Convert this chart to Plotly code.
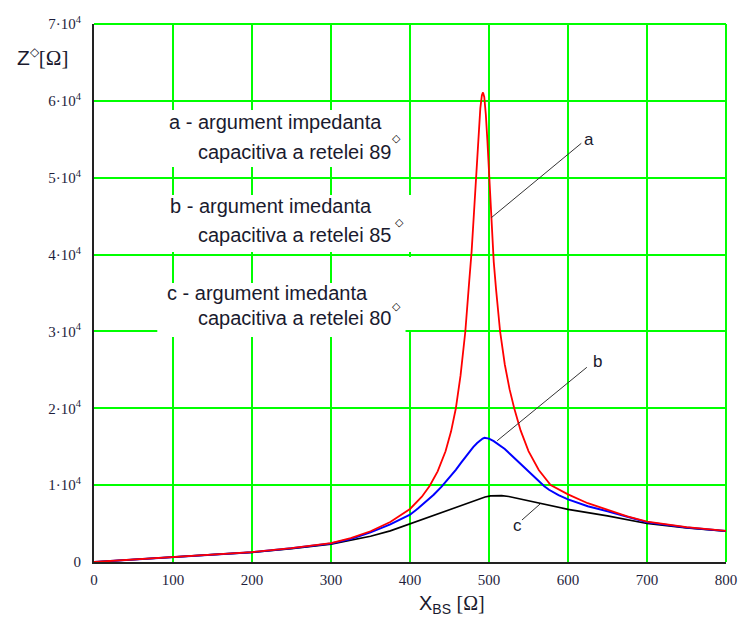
import plotly.graph_objects as go

# ---------------- data ----------------
x_a = [0, 25, 50, 75, 100, 150, 200, 250, 300, 325, 350, 375, 400, 415, 425, 435, 445, 452, 458,
       464, 470, 475, 478, 481, 484, 487, 489, 491, 492.4, 494, 496, 498, 500, 503, 506, 509, 514,
       520, 526, 532, 540, 550, 563, 578, 600, 625, 650, 675, 700, 750, 800]
z_a = [0, 170, 330, 500, 680, 980, 1280, 1800, 2450, 3100, 4000, 5200, 6900, 8500, 9930, 11800,
       14400, 17000, 19970, 24280, 29960, 36570, 40410, 45470, 50960, 56230, 59020, 60740, 61100,
       60500, 58200, 54750, 50700, 44560, 39050, 35400, 30050, 25700, 22490, 19980, 17120, 14430,
       11970, 10000, 8800, 7650, 6750, 5950, 5250, 4550, 4050]

x_b = [0, 25, 50, 75, 100, 150, 200, 250, 300, 325, 350, 375, 400, 410, 420, 430, 440, 450, 458,
       465, 470, 475, 480, 485, 489, 492, 494.4, 497, 500, 506, 512, 516, 520, 527, 535, 543, 550,
       557, 563, 570, 576, 582, 588, 600, 625, 650, 675, 700, 750, 800]
z_b = [0, 170, 330, 500, 680, 980, 1280, 1790, 2400, 3000, 3850, 4900, 6150, 6950, 7800, 8750,
       9800, 10950, 12000, 12950, 13650, 14350, 14950, 15480, 15850, 16060, 16170, 16150, 16050,
       15720, 15250, 14990, 14700, 14020, 13250, 12450, 11750, 11050, 10470, 9850, 9400, 9020,
       8700, 8150, 7250, 6600, 5850, 5180, 4500, 4040]

x_c = [0, 25, 50, 100, 150, 200, 250, 300, 350, 375, 400, 425, 450, 475, 485, 495, 502, 509, 516,
       525, 537, 550, 575, 600, 650, 700, 750, 800]
z_c = [0, 170, 320, 660, 960, 1250, 1720, 2330, 3350, 4050, 4950, 5900, 6800, 7650, 8100, 8450,
       8600, 8660, 8630, 8520, 8250, 7900, 7350, 6850, 6000, 5000, 4420, 4000]

x_ticks = [0, 100, 200, 300, 400, 500, 600, 700, 800]
y_ticks = [0, 10000, 20000, 30000, 40000, 50000, 60000, 70000]
y_ticktext = ["0", "1·10<sup>4</sup>", "2·10<sup>4</sup>", "3·10<sup>4</sup>", "4·10<sup>4</sup>",
              "5·10<sup>4</sup>", "6·10<sup>4</sup>", "7·10<sup>4</sup>"]

legend_lines = [
    ("a - argument impedanta", "capacitiva a retelei 89"),
    ("b - argument imedanta", "capacitiva a retelei 85"),
    ("c - argument imedanta", "capacitiva a retelei 80"),
]
curve_labels = ["a", "b", "c"]

# ---------------- figure ----------------
W, H = 749, 619
ML, MR, MT, MB = 94, 16, 24, 57

fig = go.Figure()
fig.add_trace(go.Scatter(x=x_c, y=z_c, mode="lines", line=dict(color="#000000", width=1.6),
                         showlegend=False))
fig.add_trace(go.Scatter(x=x_b, y=z_b, mode="lines", line=dict(color="#0000FF", width=2),
                         showlegend=False))
fig.add_trace(go.Scatter(x=x_a, y=z_a, mode="lines", line=dict(color="#FF0000", width=1.8),
                         showlegend=False))

SERIF = "Liberation Serif, Times New Roman, serif"
SANS = "Liberation Sans, Arial, sans-serif"
TICKCOL = "#1e1e3c"
GRID = "#00FF00"

fig.update_xaxes(range=[0, 800], tickvals=x_ticks, ticktext=[str(v) for v in x_ticks],
                 showgrid=True, gridcolor=GRID, gridwidth=1.6, zeroline=False,
                 showline=True, linecolor="#222222", linewidth=2, mirror=False,
                 ticks="", ticklabelstandoff=3,
                 tickfont=dict(family=SERIF, size=15, color=TICKCOL))
fig.update_yaxes(range=[0, 70000], tickvals=y_ticks, ticktext=y_ticktext,
                 showgrid=True, gridcolor=GRID, gridwidth=1.6, zeroline=False,
                 showline=True, linecolor="#222222", linewidth=2, mirror=False,
                 ticks="", ticklabelstandoff=8,
                 tickfont=dict(family=SERIF, size=15, color=TICKCOL))


def px2x(px):
    return (px - ML) / (W - ML - MR) * 800


def py2y(py):
    return (H - MB - py) / (H - MT - MB) * 70000


shapes = []
shapes.append(dict(type="line", xref="paper", yref="paper", x0=0, x1=1, y0=1, y1=1,
                   line=dict(color=GRID, width=2), layer="below"))
shapes.append(dict(type="line", xref="paper", yref="paper", x0=1, x1=1, y0=0, y1=1,
                   line=dict(color=GRID, width=2), layer="below"))

# white text-region boxes
boxes = [(158, 408, 110, 167), (158, 408, 195, 252), (388, 418, 195, 252),
         (388, 418, 257, 330), (158, 409, 283, 337)]
for (x0, x1, y0, y1) in boxes:
    shapes.append(dict(type="rect", xref="x", yref="y", x0=px2x(x0), x1=px2x(x1),
                       y0=py2y(y1), y1=py2y(y0), fillcolor="white", line=dict(width=0),
                       layer="above"))

# leader lines
leaders = [((586.7, 143.3), (495.7, 217.7)), ((592.3, 367.3), (501.7, 440.7)),
           ((526.7, 520.0), (545.0, 504.0))]
for (p0, p1) in leaders:
    shapes.append(dict(type="line", xref="x", yref="y", x0=px2x(p0[0]), y0=py2y(p0[1]),
                       x1=px2x(p1[0]), y1=py2y(p1[1]), line=dict(color="#333333", width=1),
                       layer="above"))
fig.update_layout(shapes=shapes)

ann = []
TXT = "#1a1a2e"
line1_pos = [(167.3, 121.7), (169.3, 206.0), (166.0, 292.7)]
line2_pos = [(197.3, 152.0), (197.3, 235.0), (197.3, 318.3)]
deg_pos = [(400.0, 138.0), (403.0, 222.0), (400.0, 306.0)]
for (t1, t2), p1, p2, pd in zip(legend_lines, line1_pos, line2_pos, deg_pos):
    ann.append(dict(x=px2x(p1[0]), y=py2y(p1[1]), xref="x", yref="y", text=t1, showarrow=False,
                    xanchor="left", yanchor="middle", font=dict(family=SANS, size=20, color=TXT)))
    ann.append(dict(x=px2x(p2[0]), y=py2y(p2[1]), xref="x", yref="y", text=t2, showarrow=False,
                    xanchor="left", yanchor="middle", font=dict(family=SANS, size=20, color=TXT)))
    ann.append(dict(x=px2x(pd[0]), y=py2y(pd[1]), xref="x", yref="y", text="◇", showarrow=False,
                    xanchor="center", yanchor="middle",
                    font=dict(family="DejaVu Sans", size=11, color="#000000")))

lab_pos = [(594.3, 139.0), (602.7, 361.7), (521.7, 525.0)]
for lab, p in zip(curve_labels, lab_pos):
    ann.append(dict(x=px2x(p[0]), y=py2y(p[1]), xref="x", yref="y", text=lab, showarrow=False,
                    xanchor="center", yanchor="middle",
                    font=dict(family=SANS, size=17, color=TXT)))

# axis titles
ann.append(dict(xref="paper", yref="paper", x=(42 - ML) / (W - ML - MR),
                y=(H - MB - 58) / (H - MT - MB), showarrow=False, xanchor="center",
                yanchor="middle",
                text="Z<sup><span style='font-size:12px'>◇</span></sup>"
                     "<span style='font-family:Liberation Serif'>[Ω]</span>",
                font=dict(family=SANS, size=21, color=TXT)))
ann.append(dict(xref="paper", yref="paper", x=(456 - ML) / (W - ML - MR),
                y=(H - MB - 604) / (H - MT - MB), showarrow=False, xanchor="center",
                yanchor="middle",
                text="X<sub>BS</sub> <span style='font-family:Liberation Serif'>[Ω]</span>",
                font=dict(family=SANS, size=20, color=TXT)))

fig.update_layout(annotations=ann, width=W, height=H,
                  margin=dict(l=ML, r=MR, t=MT, b=MB, pad=0),
                  plot_bgcolor="white", paper_bgcolor="white")

fig.write_html("out.html")
